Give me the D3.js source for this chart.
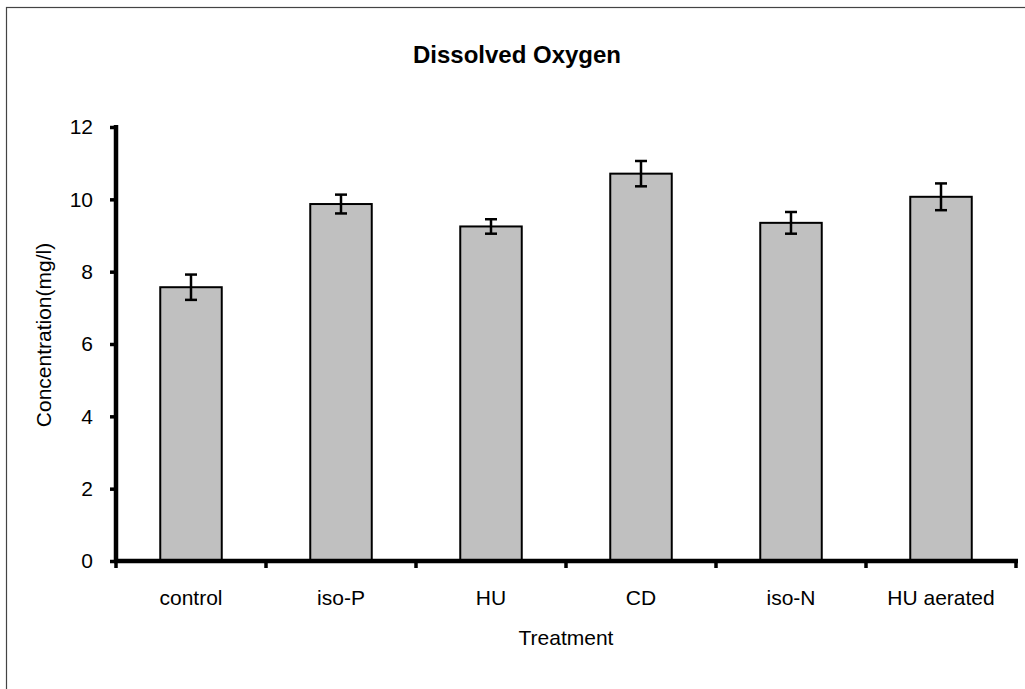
<!DOCTYPE html>
<html>
<head>
<meta charset="utf-8">
<script src="https://cdn.jsdelivr.net/npm/d3@7"></script>
<style>
  html, body { margin: 0; padding: 0; background: #fff; }
  svg { display: block; font-family: "Liberation Sans", Arial, sans-serif; }
</style>
</head>
<body>
<svg id="chart" width="1025" height="689"></svg>
<script>
const categories = ["control", "iso-P", "HU", "CD", "iso-N", "HU aerated"];
const values = [7.57, 9.87, 9.25, 10.71, 9.35, 10.07];
const errors = [0.35, 0.26, 0.2, 0.35, 0.3, 0.37];
const yTicks = [0, 2, 4, 6, 8, 10, 12];

(function () {
const svg = d3.select("#chart");
const pLeft = 116, pRight = 1016, pTop = 127, pBottom = 561;
const FONT = "Liberation Sans, Arial, sans-serif";

// outer frame
svg.append("rect")
  .attr("x", 6.5).attr("y", 7.5)
  .attr("width", 1100).attr("height", 800)
  .attr("fill", "none").attr("stroke", "#444").attr("stroke-width", 1.2);

const x = d3.scaleBand().domain(categories).range([pLeft, pRight]).paddingInner(0).paddingOuter(0);
const y = d3.scaleLinear().domain([0, 12]).range([pBottom, pTop]);

const barW = x.bandwidth() * 0.41;

// bars
svg.append("g").selectAll("rect").data(categories).join("rect")
  .attr("x", d => x(d) + x.bandwidth() / 2 - barW / 2)
  .attr("y", (d, i) => y(values[i]))
  .attr("width", barW)
  .attr("height", (d, i) => y(0) - y(values[i]))
  .attr("fill", "#c0c0c0")
  .attr("stroke", "#000")
  .attr("stroke-width", 2);

// error bars
const eb = svg.append("g").attr("stroke", "#000").attr("stroke-width", 2.5);
categories.forEach((c, i) => {
  const cx = x(c) + x.bandwidth() / 2;
  const hi = y(values[i] + errors[i]), lo = y(values[i] - errors[i]);
  eb.append("line").attr("x1", cx).attr("x2", cx).attr("y1", hi).attr("y2", lo);
  eb.append("line").attr("x1", cx - 6).attr("x2", cx + 6).attr("y1", hi).attr("y2", hi);
  eb.append("line").attr("x1", cx - 6).attr("x2", cx + 6).attr("y1", lo).attr("y2", lo);
});

// y axis
const yAxis = svg.append("g").attr("transform", `translate(${pLeft},0)`)
  .call(d3.axisLeft(y).tickValues(yTicks).tickSize(6).tickPadding(17).tickFormat(d3.format("d")));
yAxis.select(".domain").remove();
yAxis.selectAll(".tick line").attr("stroke", "#000").attr("stroke-width", 3.5);
yAxis.selectAll(".tick text").attr("font-size", 21).attr("fill", "#000")
  .attr("font-family", FONT);
svg.append("line").attr("x1", pLeft).attr("x2", pLeft).attr("y1", pTop - 2).attr("y2", pBottom + 2)
  .attr("stroke", "#000").attr("stroke-width", 4.5);

// x axis
const xAxis = svg.append("g").attr("transform", `translate(0,${pBottom})`)
  .call(d3.axisBottom(x).tickSize(0).tickPadding(0));
xAxis.select(".domain").remove();
xAxis.selectAll(".tick line").remove();
xAxis.selectAll(".tick text").attr("font-size", 21).attr("fill", "#000")
  .attr("dy", 0).attr("y", 44)
  .attr("font-family", FONT);
// category boundary ticks
const bounds = categories.map(c => x(c)).concat([x(categories[categories.length - 1]) + x.bandwidth()]);
svg.append("g").selectAll("line").data(bounds).join("line")
  .attr("x1", d => d).attr("x2", d => d)
  .attr("y1", pBottom).attr("y2", pBottom + 7)
  .attr("stroke", "#000").attr("stroke-width", 3.5);
svg.append("line").attr("x1", pLeft - 2).attr("x2", pRight + 2).attr("y1", pBottom).attr("y2", pBottom)
  .attr("stroke", "#000").attr("stroke-width", 4.5);

// titles
svg.append("text").attr("x", 517).attr("y", 63).attr("text-anchor", "middle")
  .attr("font-family", FONT).attr("font-size", 24).attr("font-weight", "bold").text("Dissolved Oxygen");
svg.append("text").attr("x", 566).attr("y", 645).attr("text-anchor", "middle")
  .attr("font-family", FONT).attr("font-size", 21).text("Treatment");
svg.append("text").attr("transform", `translate(51,335) rotate(-90)`)
  .attr("text-anchor", "middle").attr("font-family", FONT).attr("font-size", 21).text("Concentration(mg/l)");
})();
</script>
</body>
</html>
